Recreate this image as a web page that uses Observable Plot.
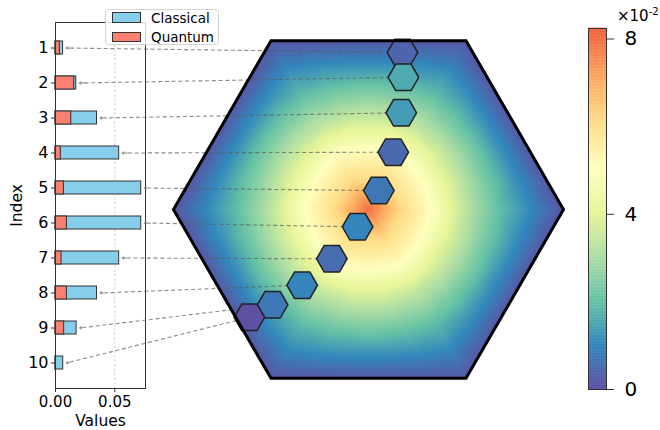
<!DOCTYPE html>
<html>
<head>
<meta charset="utf-8">
<script src="https://cdn.jsdelivr.net/npm/d3@7"></script>
<script src="https://cdn.jsdelivr.net/npm/@observablehq/plot@0.6"></script>
<style>
  body { margin: 0; background: #fff; }
  #chart { position: relative; width: 660px; height: 430px; overflow: hidden; font-family: "DejaVu Sans", sans-serif; }
  #chart svg { position: absolute; left: 0; top: 0; background: transparent !important; overflow: visible; font-family: "DejaVu Sans", sans-serif; }
  .legend { position: absolute; left: 105px; top: 9px; width: 112px; height: 34px; background: rgba(255,255,255,0.8); border: 1px solid #d5d5d5; border-radius: 3px; font-size: 13.5px; color: #000; }
  .legend .sw { position: absolute; left: 6px; width: 27px; height: 8.5px; border: 1px solid #333; }
  .legend .lab { position: absolute; left: 45px; line-height: 16px; white-space: nowrap; }
  .expo { position: absolute; left: 617px; top: 6px; font-size: 15px; color: #000; white-space: nowrap; }
  .expo sup { font-size: 10px; vertical-align: 6px; }
</style>
</head>
<body>
<div id="chart"></div>
<script>
// ---------- data ----------
const indices   = [1, 2, 3, 4, 5, 6, 7, 8, 9, 10];
const classical = [0.0064, 0.0175, 0.0350, 0.0537, 0.0723, 0.0723, 0.0537, 0.0350, 0.0178, 0.0065];
const quantum   = [0.0037, 0.0158, 0.0133, 0.0045, 0.0071, 0.0096, 0.0051, 0.0096, 0.0073, 0.0003];
// small hexagon centres (big hexagon radius = 1)
const hexX = [0.174, 0.179, 0.168, 0.127, 0.053, -0.056, -0.188, -0.340, -0.492, -0.611];
const hexY = [0.805, 0.678, 0.496, 0.294, 0.097, -0.089, -0.253, -0.388, -0.489, -0.553];
// density on the hexagonal lattice: one row per ring (centre -> boundary),
// entries = value at the ring corner, then moving toward the edge middle
const ringValues = [
  [0.080],
  [0.062],
  [0.050, 0.052],
  [0.033, 0.038],
  [0.020, 0.024, 0.026],
  [0.010, 0.012, 0.013],
  [0.0015, 0.0015, 0.0015, 0.0015]
];
const xTicks = [0, 0.05];
const cbTicks = [0, 0.04, 0.08];
const vmax = 0.0824;
const spectralColors = ["#5e4fa2","#3288bd","#66c2a5","#abdda4","#e6f598","#ffffbf","#fee08b","#fdae61","#f46d43","#d53e4f","#9e0142"];

// ---------- helpers ----------
const spectral = d3.piecewise(d3.interpolateRgb, spectralColors);
const colorScale = {type: "linear", domain: [0, vmax], interpolate: t => spectral(0.82 * Math.max(0, Math.min(1, t)))};

const N = ringValues.length - 1;
const s = 1 / N;
const hexDist = (a1, b1, a2, b2) => Math.max(Math.abs(a1 - a2), Math.abs(b1 - b2), Math.abs(a1 + b1 - a2 - b2));
const lattice = [];
for (let r = -N; r <= N; r++) {
  const m = 2 * N - Math.abs(r);
  for (let j = 0; j <= m; j++) {
    const xs = j - m / 2;
    const a = xs - r / 2, b = r;               // axial lattice coordinates
    const k = Math.max(Math.abs(a), Math.abs(b), Math.abs(a + b));
    const corners = [[k, 0], [0, k], [-k, k], [-k, 0], [0, -k], [k, -k]];
    const p = d3.min(corners, ([ca, cb]) => hexDist(a, b, ca, cb));
    lattice.push({x: xs * s, y: r * s * Math.sqrt(3) / 2, v: ringValues[k][p]});
  }
}
const bigHexVerts = d3.range(6).map(k => [Math.cos(k * Math.PI / 3), Math.sin(k * Math.PI / 3)]);

const chart = document.getElementById("chart");
const W = 660, H = 430;
const hexFrame = {width: W, height: H, marginLeft: 173, marginRight: 97, marginTop: 14, marginBottom: 26};

// ---------- heat map layer ----------
const heat = Plot.plot({
  ...hexFrame,
  x: {domain: [-1, 1], axis: null},
  y: {domain: [-1, 1], axis: null},
  color: colorScale,
  marks: [
    Plot.raster(lattice, {x: "x", y: "y", fill: "v", interpolate: "barycentric", x1: -1, x2: 1, y1: -0.9, y2: 0.9})
  ]
});
{
  const sx = heat.scale("x"), sy = heat.scale("y");
  const pts = bigHexVerts.map(([a, b]) => `${sx.apply(a)},${sy.apply(b)}`).join(" ");
  const ns = "http://www.w3.org/2000/svg";
  const defs = document.createElementNS(ns, "defs");
  const cp = document.createElementNS(ns, "clipPath");
  cp.setAttribute("id", "bighex-clip");
  const poly = document.createElementNS(ns, "polygon");
  poly.setAttribute("points", pts);
  cp.appendChild(poly); defs.appendChild(cp); heat.appendChild(defs);
  const img = heat.querySelector("image");
  if (img) {
    const g = document.createElementNS(ns, "g");
    g.setAttribute("clip-path", "url(#bighex-clip)");
    const parent = img.parentNode;
    parent.parentNode.insertBefore(g, parent);
    g.appendChild(parent);
  }
}
chart.appendChild(heat);

// ---------- bar chart layer ----------
const bars = Plot.plot({
  width: W, height: H, marginLeft: 55, marginRight: W - 145, marginTop: 22, marginBottom: 42,
  x: {domain: [0, 0.0759]},
  y: {domain: indices, type: "band", paddingInner: 0.64, paddingOuter: 0.48},
  marks: [
    Plot.ruleX([0.05], {stroke: "#cfcfcf", strokeDasharray: "2.5,2"}),
    Plot.barX(indices, {y: d => d, x1: 0, x2: (d, i) => classical[i], fill: "#87ceeb", stroke: "#333", strokeWidth: 1}),
    Plot.barX(indices, {y: d => d, x1: 0, x2: (d, i) => quantum[i], fill: "#fa8072", stroke: "#333", strokeWidth: 1}),
    Plot.frame({stroke: "#333", strokeWidth: 1}),
    Plot.axisX({ticks: xTicks, tickFormat: d3.format(".2f"), tickSize: 4, tickPadding: 4, fontSize: 15, label: null, stroke: "#333"}),
    Plot.axisY({tickSize: 4, tickPadding: 3, fontSize: 16, label: null, stroke: "#333"}),
    Plot.text(["Index"], {frameAnchor: "left", dx: -38, rotate: -90, textAnchor: "middle", lineAnchor: "middle", fontSize: 15.5}),
    Plot.text(["Values"], {frameAnchor: "bottom", dy: 33, textAnchor: "middle", lineAnchor: "middle", fontSize: 15.5})
  ]
});
chart.appendChild(bars);

// ---------- arrows layer ----------
const bx = bars.scale("x"), by = bars.scale("y");
const hxs = heat.scale("x"), hys = heat.scale("y");
const links = indices.map((d, i) => {
  const x2 = bx.apply(classical[i]) + 3;
  const y2 = by.apply(d) + by.bandwidth / 2;
  const x1 = hxs.apply(hexX[i]);
  const y1 = hys.apply(hexY[i]);
  const L = Math.hypot(x2 - x1, y2 - y1);
  const ux = (x2 - x1) / L, uy = (y2 - y1) / L;
  return {x1, y1, x2, y2, hx: x2 - 6 * ux, hy: y2 - 6 * uy};
});
const arrows = Plot.plot({
  width: W, height: H, margin: 0,
  x: {type: "identity", axis: null},
  y: {type: "identity", axis: null},
  marks: [
    Plot.link(links, {x1: "x1", y1: "y1", x2: "hx", y2: "hy", stroke: "#5a5a5a", strokeOpacity: 0.7, strokeWidth: 1.1, strokeDasharray: "4,2.7"}),
    Plot.arrow(links, {x1: "hx", y1: "hy", x2: "x2", y2: "y2", stroke: "#777", strokeOpacity: 0.8, strokeWidth: 1.1, headLength: 6, headAngle: 70})
  ]
});
chart.appendChild(arrows);

// ---------- small hexagons + big hexagon border ----------
const unitPx = hxs.apply(1) - hxs.apply(0);
const hexLayer = Plot.plot({
  ...hexFrame,
  x: {domain: [-1, 1], axis: null},
  y: {domain: [-1, 1], axis: null},
  color: colorScale,
  marks: [
    Plot.dot(indices, {x: (d, i) => hexX[i], y: (d, i) => hexY[i], fill: (d, i) => quantum[i], symbol: "hexagon", r: 0.068 * unitPx, rotate: 30, stroke: "#222", strokeWidth: 1.5}),
    Plot.dot([0], {x: 0, y: 0, symbol: "hexagon", r: unitPx * Math.sqrt(3) / 2, rotate: 30, fill: "none", stroke: "#000", strokeWidth: 3})
  ]
});
chart.appendChild(hexLayer);

// ---------- colour bar ----------
const nCells = 240;
const cells = d3.range(nCells).map(i => (i + 0.5) * vmax / nCells);
const cbar = Plot.plot({
  width: W, height: H, marginLeft: 588, marginRight: W - 606, marginTop: 28, marginBottom: 41,
  x: {domain: [0, 1], axis: null},
  y: {domain: [0, vmax]},
  color: colorScale,
  marks: [
    Plot.rect(cells, {x1: 0, x2: 1, y1: d => d - vmax / nCells / 2, y2: d => d + vmax / nCells * 0.75, fill: d => d}),
    Plot.frame({stroke: "#333", strokeWidth: 1}),
    Plot.axisY({anchor: "right", ticks: cbTicks, tickFormat: d => String(Math.round(d * 100)), tickSize: 7, tickPadding: 11, fontSize: 20, label: null, stroke: "#333"})
  ]
});
chart.appendChild(cbar);

// ---------- legend & exponent ----------
const legend = document.createElement("div");
legend.className = "legend";
legend.innerHTML =
  '<span class="sw" style="top:2px;background:#87ceeb"></span><span class="lab" style="top:0px">Classical</span>' +
  '<span class="sw" style="top:21.5px;background:#fa8072"></span><span class="lab" style="top:19px">Quantum</span>';
chart.appendChild(legend);
const expo = document.createElement("div");
expo.className = "expo";
expo.innerHTML = "×10<sup>-2</sup>";
chart.appendChild(expo);
</script>
</body>
</html>
